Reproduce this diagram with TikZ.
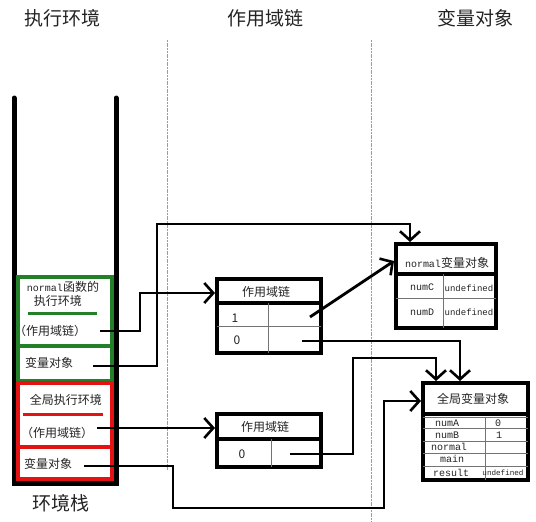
\documentclass[tikz,border=0pt]{standalone}
\usepackage{fontspec}
\setmainfont{Noto Sans CJK SC}
\newfontfamily\lat{Liberation Mono}
\usetikzlibrary{arrows.meta}
\definecolor{stackgreen}{RGB}{34,128,40}
\definecolor{stackred}{RGB}{228,18,18}
\definecolor{guide}{RGB}{232,120,140}
\definecolor{txt}{RGB}{35,35,35}
\begin{document}
\begin{tikzpicture}[x=1pt,y=-1pt,
  title/.style={font=\fontsize{19}{22}\selectfont, text=txt, inner sep=0pt},
  lbl/.style={font=\fontsize{12}{14}\selectfont, text=txt, inner sep=0pt},
  mono/.style={font=\lat\fontsize{10}{12}\selectfont, text=txt, inner sep=0pt},
  tiny/.style={font=\lat\fontsize{9}{11}\selectfont, text=txt, inner sep=0pt},
  box/.style={draw=black, line width=4pt, inner sep=0pt},
  thick/.style={line width=3.5pt},
  thin/.style={line width=0.8pt, draw=black!55},
  guideline/.style={draw=guide, line width=0.9pt, dash pattern=on 2pt off 0.7pt},
  conn/.style={line width=2.8pt, line join=miter,
    -{Straight Barb[length=9pt,width=20pt,line width=2.6pt]}}]
\useasboundingbox (0,0) rectangle (536,522);

% column titles
\node[title] (t1) at (62,18) {执行环境};
\node[title] (t2) at (265,18) {作用域链};
\node[title] (t3) at (475,18) {变量对象};

% guide lines
\draw[guideline] (167,40) -- (167,470);
\draw[guideline] (371,40) -- (371,522);

% stack
\draw[line width=5pt, line cap=round, line join=miter] (14,98) -- (14,483) -- (116,483) -- (116,98);
\draw[stackgreen, line width=3.5pt] (18,277) rectangle (112,381);
\draw[stackgreen, line width=4pt] (18,346) -- (112,346);
\draw[stackred, line width=4pt] (18,383) rectangle (112,479);
\draw[stackred, line width=4pt] (18,447) -- (112,447);

\node[lbl] (nfn) at (63,287) {{\lat\fontsize{10}{12}\selectfont normal}函数的};
\node[lbl] (nenv) at (58,301) {执行环境};
\draw[stackgreen, line width=3pt] (28,313) -- (97,313);
\node[lbl] (gsc) at (50,331) {（作用域链）};
\node[lbl] (gvo) at (49,363) {变量对象};

\node[lbl] (genv) at (66,400) {全局执行环境};
\draw[stackred, line width=3pt] (23,414) -- (103,414);
\node[lbl] (rsc) at (57,433) {（作用域链）};
\node[lbl] (rvo) at (48,464) {变量对象};

\node[title] (stk) at (61,503) {环境栈};

% scope chain 1
\node[box, minimum width=104pt, minimum height=74pt] (sc1) at (269,316) {};
\draw[thick] (217,303) -- (321,303);
\draw[thin] (217,326) -- (321,326);
\draw[thin] (268,303) -- (268,353);
\node[lbl] (sc1h) at (266,292) {作用域链};
\node[lbl] (sc1a) at (235,318) {1};
\node[lbl] (sc1b) at (237,340) {0};

% scope chain 2
\node[box, minimum width=104pt, minimum height=53pt] (sc2) at (269,440.5) {};
\draw[thick] (217,439) -- (321,439);
\draw[thin] (271,439) -- (271,467);
\node[lbl] (sc2h) at (265,427) {作用域链};
\node[lbl] (sc2a) at (242,454) {0};

% normal variable object
\node[box, minimum width=100pt, minimum height=84pt] (nobj) at (446,286) {};
\draw[thick] (396,274) -- (496,274);
\draw[thin] (396,298) -- (496,298);
\draw[thin] (443,274) -- (443,328);
\node[lbl] (nobjh) at (447,263) {{\lat\fontsize{10}{12}\selectfont normal}变量对象};
\node[mono] (numC) at (422,287) {numC};
\node[tiny] (uC) at (469,288) {undefined};
\node[mono] (numD) at (422,312) {numD};
\node[tiny] (uD) at (469,312) {undefined};

% global variable object
\node[box, minimum width=105pt, minimum height=97pt] (gobj) at (475.5,431.5) {};
\draw[thick] (423,414) -- (528,414);
\draw[thin] (423,417) -- (528,417);
\draw[thin] (423,428.5) -- (528,428.5);
\draw[thin] (423,441) -- (528,441);
\draw[thin] (423,453.5) -- (528,453.5);
\draw[thin] (423,466) -- (528,466);
\draw[thin] (485,417) -- (485,480);
\node[lbl] (gobjh) at (473,399) {全局变量对象};
\node[mono] (numA) at (447,423) {numA};
\node[mono] (vA) at (498,423) {0};
\node[mono] (numB) at (447,435) {numB};
\node[mono] (vB) at (499,435) {1};
\node[mono] (nrm) at (449,447) {normal};
\node[mono] (mn) at (452,459) {main};
\node[mono] (res) at (451,473) {result};
\node[font=\lat\fontsize{7.6}{9}\selectfont, text=txt, inner sep=0pt] (uR) at (503,473) {undefined};

% connector start points
\coordinate (gS) at (100,331);
\coordinate (gV) at (93,366);
\coordinate (rS) at (97,428);
\coordinate (rV) at (84,466);
\coordinate (p1) at (310,317);
\coordinate (p0) at (302,341);
\coordinate (q0) at (290,454);

% connectors
\draw[conn] (gS) -| (140,293) -- (sc1.west |- 0,293);
\draw[conn] (gV) -| (157,224) -| (nobj.north -| 410,0);
\draw[conn] (p1) -- (nobj.west |- 0,261);
\draw[conn] (p0) -| (gobj.north -| 460,0);
\draw[conn] (rS) -- (sc2.west |- rS);
\draw[conn] (q0) -| (353,358) -| (gobj.north -| 436,0);
\draw[conn] (rV) -| (173,508) -| (384,401) -- (gobj.west |- 0,401);
\end{tikzpicture}
\end{document}
